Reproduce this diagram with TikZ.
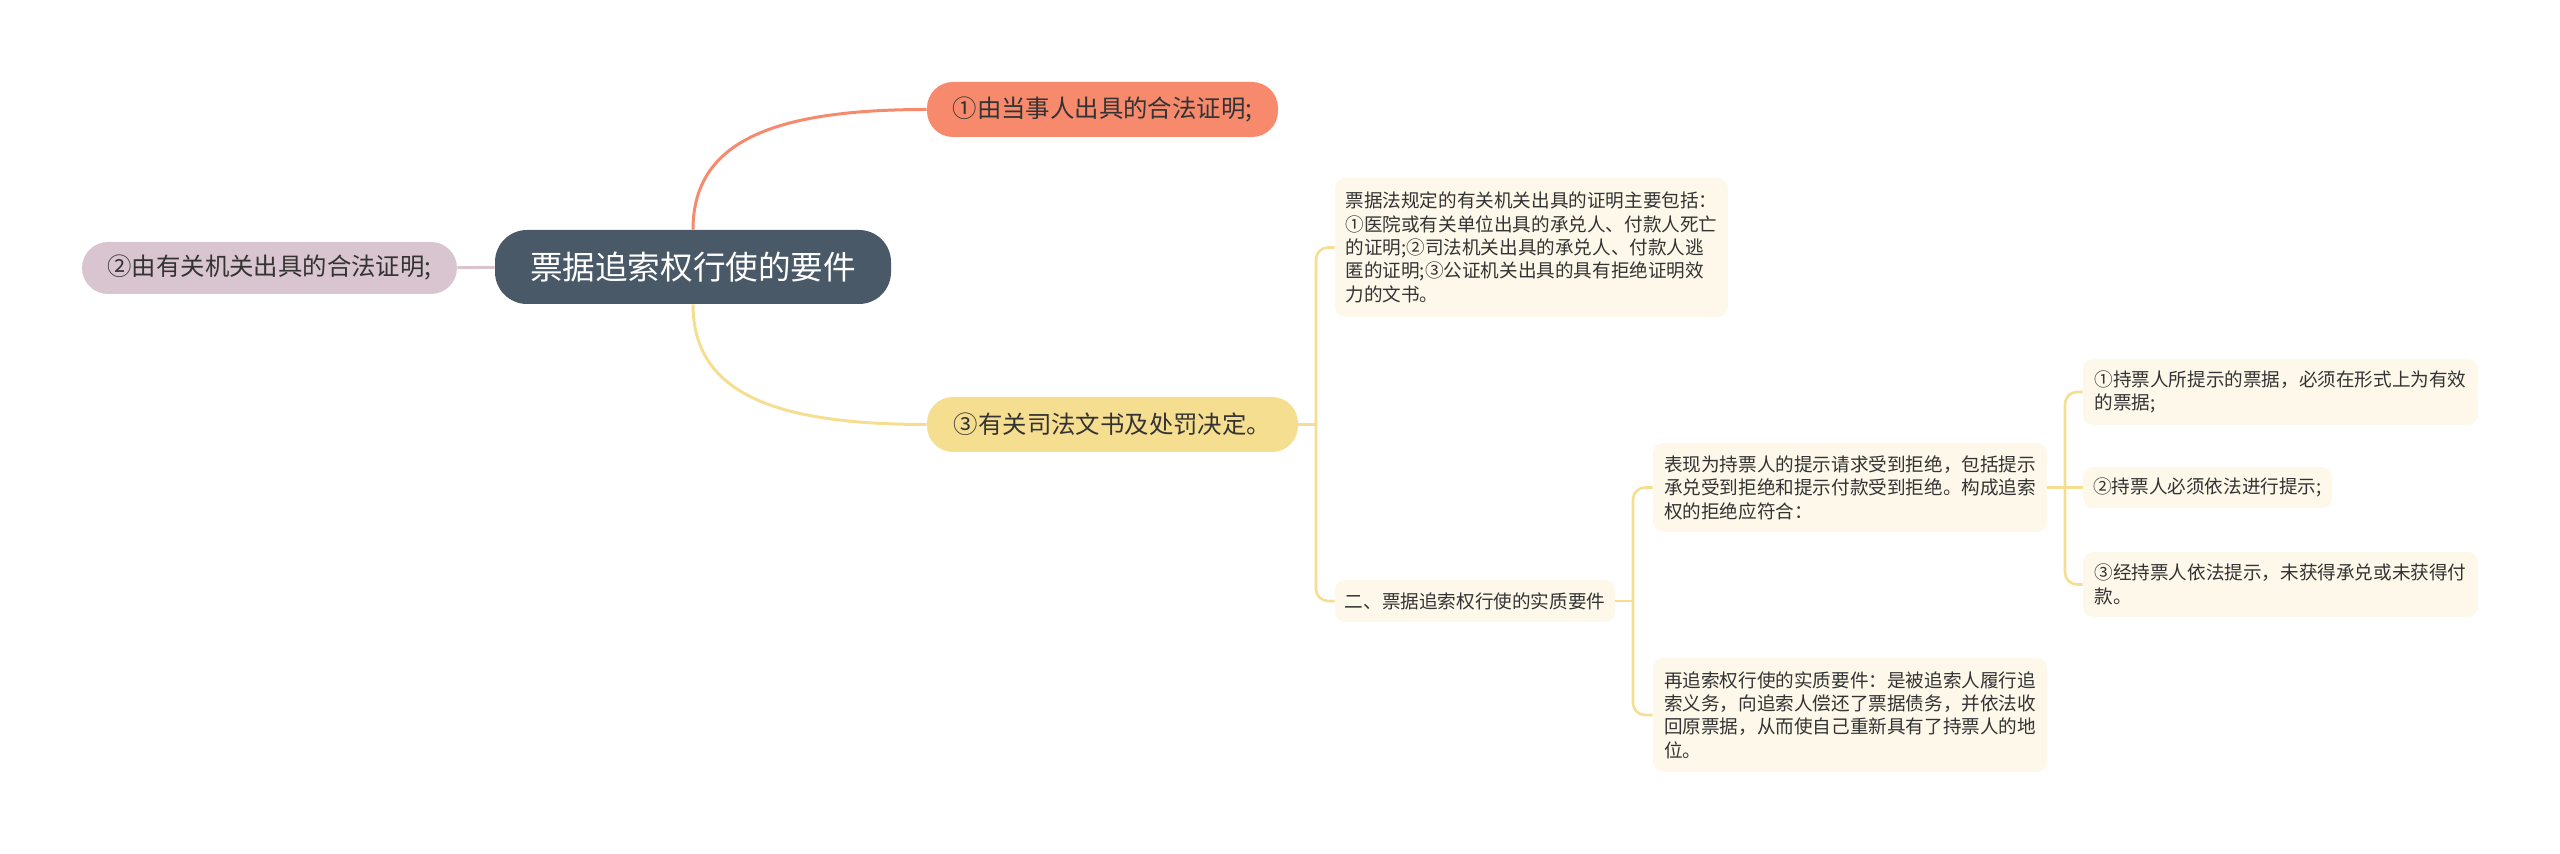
\documentclass[tikz,border=0pt]{standalone}
\usepackage{fontspec}
\setmainfont{Noto Sans CJK SC}
\usetikzlibrary{positioning,calc}
\definecolor{rootc}{HTML}{4A5968}
\definecolor{pinkc}{HTML}{D8C5CF}
\definecolor{orangec}{HTML}{F78A6D}
\definecolor{yellowc}{HTML}{F6DE91}
\definecolor{creamc}{HTML}{FEF8EA}
\definecolor{txtc}{HTML}{333333}
\tikzset{
  root/.style={fill=rootc, text=white, rounded corners=16pt, inner sep=0pt,
               font=\fontsize{16.3}{19}\selectfont},
  topic/.style={rounded corners=13pt, inner sep=0pt, text=txtc,
                font=\fontsize{12.2}{14}\selectfont},
  leaf/.style={fill=creamc, rounded corners=5pt, inner sep=0pt, align=left,
               text=txtc, font=\fontsize{9.3}{11.7}\selectfont},
  link/.style={line width=1.5pt},
  ylink/.style={draw=yellowc, line width=1.3pt},
}

\begin{document}
\begin{tikzpicture}[x=0.5pt, y=-0.5pt]
  \useasboundingbox (0,0) rectangle (2560,854);
  \node[root, minimum width=198pt, minimum height=37pt] (req) at (693,267) {票据追索权行使的要件};
  \node[topic, fill=pinkc, minimum width=187.5pt, minimum height=26pt] (lawB) at (269.5,268) {②由有关机关出具的合法证明;};
  \node[topic, fill=orangec, minimum width=175.5pt, minimum height=27.5pt] (lawA) at (1102.5,109.5) {①由当事人出具的合法证明;};
  \node[topic, fill=yellowc, minimum width=185.5pt, minimum height=27.5pt] (lawC) at (1112.5,424.5) {③有关司法文书及处罚决定。};
  \node[leaf, minimum width=196.5pt, minimum height=69.5pt] (proof) at (1531.5,247.5) {票据法规定的有关机关出具的证明主要包括：\\①医院或有关单位出具的承兑人、付款人死亡\\的证明;②司法机关出具的承兑人、付款人逃\\匿的证明;③公证机关出具的具有拒绝证明效\\力的文书。};
  \node[leaf, minimum width=140pt, minimum height=21pt] (subst) at (1475,601) {二、票据追索权行使的实质要件};
  \node[leaf, minimum width=197pt, minimum height=44.5pt] (refuse) at (1850,487.5) {表现为持票人的提示请求受到拒绝，包括提示\\承兑受到拒绝和提示付款受到拒绝。构成追索\\权的拒绝应符合：};
  \node[leaf, minimum width=197pt, minimum height=57pt] (again) at (1850,715) {再追索权行使的实质要件：是被追索人履行追\\索义务，向追索人偿还了票据债务，并依法收\\回原票据，从而使自己重新具有了持票人的地\\位。};
  \node[leaf, minimum width=197.5pt, minimum height=33pt] (condA) at (2280.5,392) {①持票人所提示的票据，必须在形式上为有效\\的票据;};
  \node[leaf, minimum width=124.5pt, minimum height=20.5pt] (condB) at (2207.5,487.5) {②持票人必须依法进行提示;};
  \node[leaf, minimum width=197.5pt, minimum height=32.5pt] (condC) at (2280.5,584.5) {③经持票人依法提示，未获得承兑或未获得付\\款。};

  \draw[link, draw=pinkc] (lawB) -- (req);
  \draw[link, draw=orangec] (req.north) .. controls +(0,-90) and +(-150,0) .. (lawA.west);
  \draw[link, draw=yellowc] (req.south) .. controls +(0,90) and +(-150,0) .. (lawC.west);

  \coordinate (j1) at (1316,424.5);
  \draw[ylink] (lawC.east) -- (j1);
  \draw[ylink, rounded corners=6pt] (proof.west) -| (j1) |- (subst.west);
  \coordinate (j2) at (1633,601);
  \draw[ylink] (subst.east) -- (j2);
  \draw[ylink, rounded corners=6pt] (refuse.west) -| (j2) |- (again.west);
  \coordinate (j3) at (2065,487.5);
  \draw[ylink] (refuse.east) -- (condB.west);
  \draw[ylink, rounded corners=6pt] (condA.west) -| (j3) |- (condC.west);
\end{tikzpicture}
\end{document}
